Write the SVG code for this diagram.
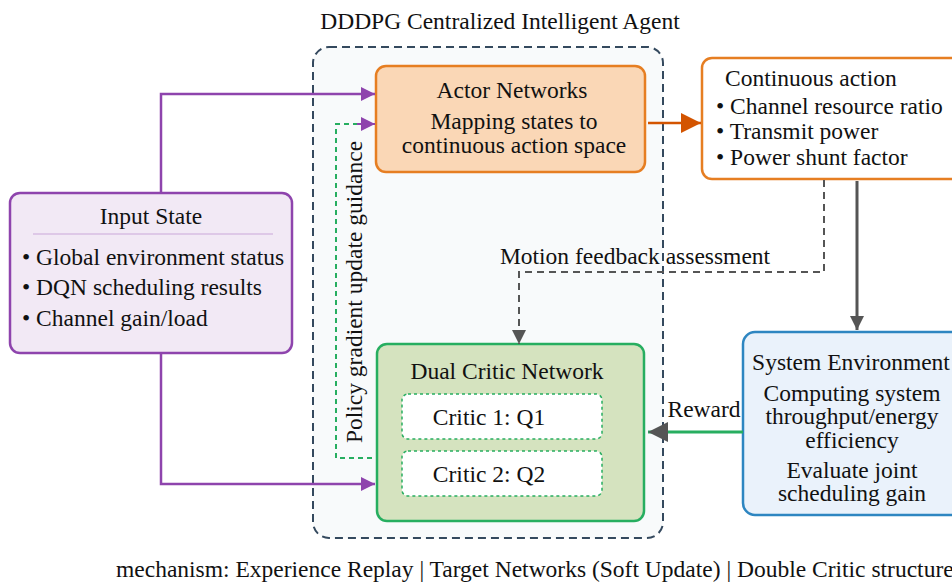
<svg xmlns="http://www.w3.org/2000/svg" width="952" height="583" viewBox="0 0 952 583" font-family="'Liberation Serif', 'Times New Roman', Times, serif">
<defs>
<style>
text{font-family:'Liberation Serif','Times New Roman',Times,serif;font-size:23.5px;fill:#111;}
.c{text-anchor:middle;}
.node{stroke-width:2.5;}
</style>
<marker id="ap" viewBox="0 0 10 10" refX="10" refY="5" markerWidth="22" markerHeight="14" markerUnits="userSpaceOnUse" orient="auto"><path d="M0,0L10,5L0,10z" fill="#8e44ad"/></marker>
<marker id="ao" viewBox="0 0 10 10" refX="10" refY="5" markerWidth="28" markerHeight="20" markerUnits="userSpaceOnUse" orient="auto"><path d="M0,0L10,5L0,10z" fill="#d35400"/></marker>
<marker id="ag" viewBox="0 0 10 10" refX="10" refY="5" markerWidth="20" markerHeight="14" markerUnits="userSpaceOnUse" orient="auto"><path d="M0,0L10,5L0,10z" fill="#555"/></marker>
<marker id="ag2" viewBox="0 0 10 10" refX="10" refY="5" markerWidth="30" markerHeight="20" markerUnits="userSpaceOnUse" orient="auto"><path d="M0,0L10,5L0,10z" fill="#555"/></marker>
</defs>
<rect width="952" height="583" fill="#ffffff"/>

<g id="agent">
<rect x="313" y="47" width="350" height="491" rx="16" fill="#f8fafb" stroke="#34495e" stroke-width="2" stroke-dasharray="8,5"/>
<text class="c" x="500" y="29">DDDPG Centralized Intelligent Agent</text>
</g>

<g id="actor">
<rect class="node" x="376" y="66" width="269" height="106" rx="10" fill="#fad7b6" stroke="#e67e22"/>
<text class="c" x="512" y="98">Actor Networks</text>
<text class="c" x="514" y="129">Mapping states to</text>
<text class="c" x="514" y="153">continuous action space</text>
</g>

<g id="continuous-action">
<rect class="node" x="702" y="58" width="270" height="121" rx="10" fill="#ffffff" stroke="#e67e22"/>
<text x="725" y="86">Continuous action</text>
<text x="716" y="114">• Channel resource ratio</text>
<text x="716" y="139">• Transmit power</text>
<text x="716" y="165">• Power shunt factor</text>
</g>

<g id="input-state">
<rect class="node" x="10" y="193" width="282" height="160" rx="10" fill="#f2e9f5" stroke="#8e44ad"/>
<text class="c" x="151" y="224">Input State</text>
<line x1="33" y1="234" x2="273" y2="234" stroke="#d7bde2" stroke-width="1.5"/>
<text x="22" y="265">• Global environment status</text>
<text x="22" y="295">• DQN scheduling results</text>
<text x="22" y="326">• Channel gain/load</text>
</g>

<g id="dual-critic">
<rect class="node" x="377" y="344" width="267" height="177" rx="10" fill="#d5e3bf" stroke="#27ae60"/>
<text class="c" x="507" y="379">Dual Critic Network</text>
<g id="critic1">
<rect x="402" y="394" width="200" height="45" rx="6" fill="#ffffff" stroke="#27ae60" stroke-width="1.5" stroke-dasharray="3,3"/>
<text class="c" x="489" y="425">Critic 1: Q1</text>
</g>
<g id="critic2">
<rect x="402" y="451" width="200" height="45" rx="6" fill="#ffffff" stroke="#27ae60" stroke-width="1.5" stroke-dasharray="3,3"/>
<text class="c" x="489" y="482">Critic 2: Q2</text>
</g>
</g>

<g id="system-environment">
<rect class="node" x="743" y="332" width="230" height="183" rx="12" fill="#eaf2fb" stroke="#2e86c1"/>
<text class="c" x="851" y="370">System Environment</text>
<text class="c" x="852" y="401">Computing system</text>
<text class="c" x="852" y="424">throughput/energy</text>
<text class="c" x="852" y="448">efficiency</text>
<text class="c" x="852" y="478">Evaluate joint</text>
<text class="c" x="852" y="501">scheduling gain</text>
</g>

<g id="connectors" fill="none">
<path d="M161,193V94H375" stroke="#8e44ad" stroke-width="2.5" marker-end="url(#ap)"/>
<path d="M161,353V484H375" stroke="#8e44ad" stroke-width="2.5" marker-end="url(#ap)"/>
<path d="M372,458H336V124H358" stroke="#27ae60" stroke-width="2" stroke-dasharray="5,4"/>
<path d="M357,124H375" stroke="#8e44ad" stroke-width="2" marker-end="url(#ap)"/>
<path d="M648,123H701" stroke="#d35400" stroke-width="2.5" marker-end="url(#ao)"/>
<path d="M824,180V272H519V344" stroke="#555" stroke-width="2" stroke-dasharray="7,5" marker-end="url(#ag)"/>
<path d="M857,181V330" stroke="#555" stroke-width="3" marker-end="url(#ag)"/>
<path d="M743,432H648" stroke="#27ae60" stroke-width="3" marker-end="url(#ag2)"/>
<text x="635" y="264" class="c">Motion feedback assessment</text>
<text x="704" y="417" class="c">Reward</text>
<text class="c" transform="translate(362,292) rotate(-90)">Policy gradient update guidance</text>
</g>

<text x="116" y="577">mechanism: Experience Replay | Target Networks (Soft Update) | Double Critic structure</text>
</svg>
